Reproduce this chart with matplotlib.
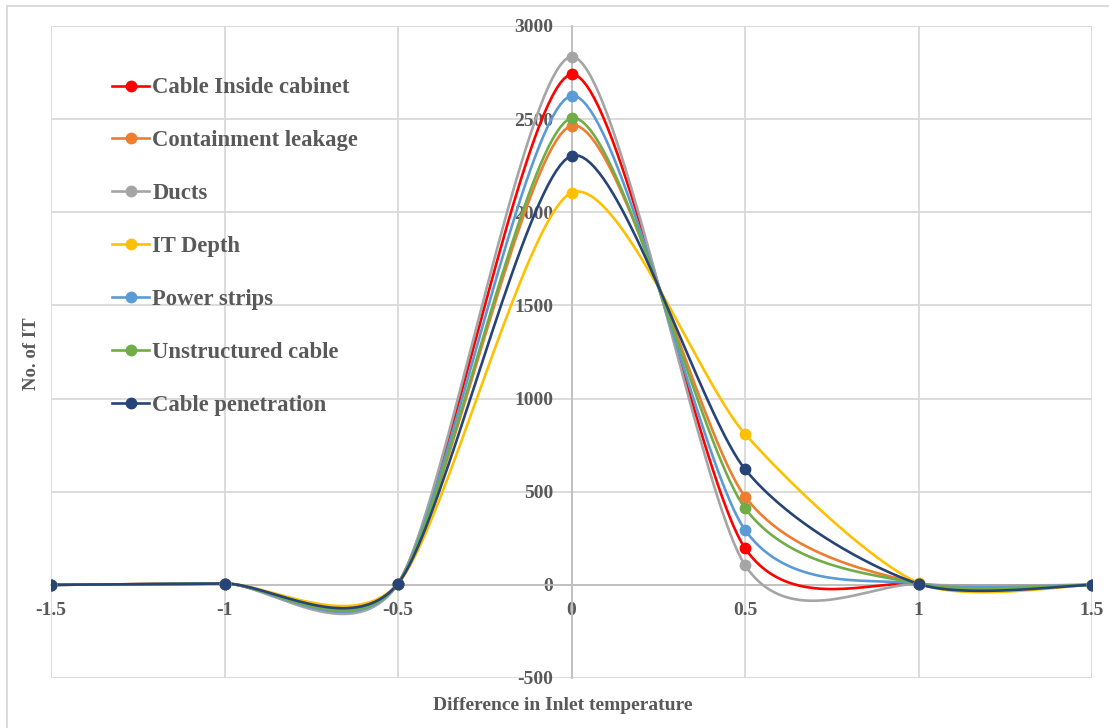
import numpy as np
import matplotlib
matplotlib.use("Agg")
import matplotlib.pyplot as plt
from matplotlib.lines import Line2D

# data
x_vals = [-1.5, -1.0, -0.5, 0.0, 0.5, 1.0, 1.5]
series_names = ["Cable Inside cabinet", "Containment leakage", "Ducts", "IT Depth",
                "Power strips", "Unstructured cable", "Cable penetration"]
cable_inside = [0, 7, 7, 2740, 197, 5, 0]
containment = [0, 7, 7, 2465, 474, 7, 0]
ducts = [0, 7, 7, 2835, 106, 3, 0]
it_depth = [0, 7, 7, 2105, 810, 10, 0]
power_strips = [0, 7, 7, 2625, 295, 5, 0]
unstructured = [0, 7, 7, 2505, 412, 6, 0]
cable_pen = [0, 7, 7, 2303, 621, 5, 0]
all_series = [cable_inside, containment, ducts, it_depth, power_strips, unstructured, cable_pen]
colors = ["#FF0000", "#ED7D31", "#A5A5A5", "#FFC000", "#5B9BD5", "#70AD47", "#264478"]

x_ticks = [-1.5, -1, -0.5, 0, 0.5, 1, 1.5]
x_ticklabels = ["-1.5", "-1", "-0.5", "0", "0.5", "1", "1.5"]
y_ticks = [-500, 0, 500, 1000, 1500, 2000, 2500, 3000]


def smooth(xs, ys, k=0.13, n=40):
    # excel-like bezier smoothing
    p = np.column_stack([xs, ys]).astype(float)
    out = []
    for i in range(len(p) - 1):
        p0 = p[i - 1] if i > 0 else p[i]
        p1 = p[i]
        p2 = p[i + 1]
        p3 = p[i + 2] if i + 2 < len(p) else p[i + 1]
        c1 = p1 + k * (p2 - p0)
        c2 = p2 - k * (p3 - p1)
        t = np.linspace(0, 1, n)[:, None]
        seg = (1 - t) ** 3 * p1 + 3 * (1 - t) ** 2 * t * c1 + 3 * (1 - t) * t ** 2 * c2 + t ** 3 * p2
        out.append(seg if i == 0 else seg[1:])
    out = np.vstack(out)
    return out[:, 0], out[:, 1]


plt.rcParams['font.family'] = ['Liberation Serif', 'DejaVu Serif']
plt.rcParams['axes.unicode_minus'] = False
txt = "#595959"
grid_c = "#D9D9D9"

fig = plt.figure(figsize=(11.09, 7.28), dpi=100)
ax = fig.add_axes([51 / 1109, 1 - 678 / 728, (1092 - 51) / 1109, (678 - 26) / 728])

for ys, c in zip(all_series, colors):
    sx, sy = smooth(x_vals, ys)
    ax.plot(sx, sy, color=c, lw=1.9, solid_capstyle="round", zorder=3)
    ax.plot(x_vals, ys, "o", color=c, ms=7.5, zorder=4)

ax.set_xlim(-1.5, 1.5)
ax.set_ylim(-500, 3000)
ax.set_xticks(x_ticks)
ax.set_xticklabels(x_ticklabels)
ax.set_yticks(y_ticks)
ax.grid(True, color=grid_c, lw=1.3, zorder=0)
ax.set_axisbelow(True)

for s in ["top", "right"]:
    ax.spines[s].set_visible(False)
ax.spines["left"].set_position(("data", 0))
ax.spines["bottom"].set_position(("data", 0))
ax.spines["left"].set_color("#BFBFBF")
ax.spines["bottom"].set_color("#BFBFBF")
ax.spines["left"].set_linewidth(1.3)
ax.spines["bottom"].set_linewidth(1.3)
ax.tick_params(length=0, labelsize=14, labelcolor=txt)
ax.tick_params(axis="x", pad=12)
ax.tick_params(axis="y", pad=13)
for lab in ax.get_xticklabels() + ax.get_yticklabels():
    lab.set_fontweight("bold")

fig.text(563 / 1109, 1 - 706 / 728, "Difference in Inlet temperature", ha="center", va="center",
         fontsize=14, fontweight="bold", color=txt)
fig.text(32 / 1109, 1 - 354 / 728, "No. of IT", ha="center", va="center", rotation=90,
         fontsize=13.5, fontweight="bold", color=txt)

handles = [Line2D([0], [0], color=c, lw=1.9, marker="o", ms=7.5) for c in colors]
leg = ax.legend(handles, series_names, loc="upper left", bbox_to_anchor=(0.05, 0.935),
                frameon=False, fontsize=16.3, labelspacing=1.41, handlelength=1.64,
                handletextpad=0.13, borderaxespad=0)
for t in leg.get_texts():
    t.set_color(txt)
    t.set_fontweight("bold")

# outer chart border (top and left visible)
fig.add_artist(Line2D([7 / 1109, 1], [1 - 6 / 728, 1 - 6 / 728], color=grid_c, lw=1.3))
fig.add_artist(Line2D([7 / 1109, 7 / 1109], [1 - 6 / 728, 0], color=grid_c, lw=1.3))

fig.savefig("out.png", dpi=100)
